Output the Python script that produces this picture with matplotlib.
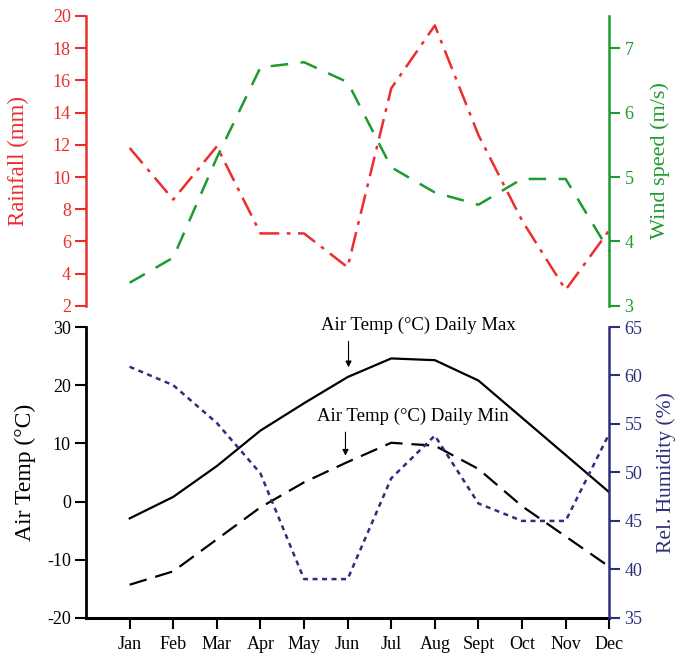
import numpy as np
import matplotlib
matplotlib.use("Agg")
import matplotlib.pyplot as plt

plt.rcParams['font.family'] = ['Liberation Serif', 'DejaVu Serif']
plt.rcParams['axes.unicode_minus'] = False

months = ["Jan", "Feb", "Mar", "Apr", "May", "Jun", "Jul", "Aug", "Sept", "Oct", "Nov", "Dec"]
rainfall = [11.8, 8.6, 11.9, 6.5, 6.5, 4.4, 15.5, 19.4, 12.6, 7.3, 3.0, 6.7]
wind = [3.36, 3.75, 5.3, 6.7, 6.78, 6.47, 5.15, 4.76, 4.57, 4.97, 4.97, 3.85]
t_max = [-2.9, 0.8, 6.1, 12.2, 16.9, 21.4, 24.6, 24.3, 20.8, 14.4, 8.0, 1.6]
t_min = [-14.3, -12.0, -6.5, -1.0, 3.3, 6.8, 10.1, 9.6, 5.6, -0.8, -6.0, -11.2]
humidity = [60.9, 59.0, 55.1, 49.9, 39.0, 39.0, 49.4, 53.8, 46.8, 45.0, 45.0, 54.0]

x = np.arange(1, 13)

red = "#ec2d2d"
green = "#1e9a2e"
navy = "#2e2e7c"

fig = plt.figure(figsize=(6.83, 6.58), dpi=100)

# top panel: rainfall + wind
ax1 = fig.add_axes([0.126, 0.535, 0.766, 0.441])
ax1.plot(x, rainfall, color=red, lw=1.8, linestyle=(0, (8, 3, 1.5, 3)))
ax1.set_xlim(0, 12)
ax1.set_ylim(2, 20)
ax1.set_yticks(range(2, 21, 2))
for s in ["top", "right", "bottom"]:
    ax1.spines[s].set_visible(False)
ax1.spines["left"].set_color(red)
ax1.spines["left"].set_linewidth(1.8)
ax1.tick_params(axis="y", colors=red, labelsize=13, length=8, width=1.5, pad=3)
ax1.set_xticks([])
ax1.set_ylabel("Rainfall (mm)", color=red, fontsize=16.5, labelpad=17)
ax1.patch.set_alpha(0)

ax2 = ax1.twinx()
ax2.plot(x, wind, color=green, lw=1.8, linestyle=(0, (7, 5)))
ax2.set_ylim(3, 7.5)
ax2.set_yticks([3, 4, 5, 6, 7])
for s in ["top", "left", "bottom"]:
    ax2.spines[s].set_visible(False)
ax2.spines["right"].set_color(green)
ax2.spines["right"].set_linewidth(1.8)
ax2.tick_params(axis="y", colors=green, labelsize=13, length=8, width=1.5, pad=3)
ax2.set_ylabel("Wind speed (m/s)", color=green, fontsize=16, labelpad=12)

# bottom panel: air temp + humidity
ax3 = fig.add_axes([0.126, 0.061, 0.766, 0.442])
ax3.plot(x, t_max, color="black", lw=1.6)
ax3.plot(x, t_min, color="black", lw=1.6, linestyle=(0, (8, 4)))
ax3.set_xlim(0, 12)
ax3.set_ylim(-20, 30)
ax3.set_yticks(range(-20, 31, 10))
ax3.set_xticks(x)
ax3.set_xticklabels(months)
ax3.spines["top"].set_visible(False)
ax3.spines["right"].set_visible(False)
ax3.spines["left"].set_linewidth(2)
ax3.spines["bottom"].set_linewidth(2.2)
ax3.tick_params(axis="both", labelsize=13, length=8, width=1.5, pad=3)
ax3.tick_params(axis="x", pad=5)
ax3.set_ylabel("Air Temp (°C)", fontsize=17, labelpad=8)
ax3.patch.set_alpha(0)

ax3.text(7.62, 30.3, "Air Temp (°C) Daily Max", ha="center", va="center", fontsize=13.5)
ax3.annotate("", xy=(6.02, 22.6), xytext=(6.02, 28.0),
             arrowprops=dict(arrowstyle="-|>", color="black", lw=0.8, mutation_scale=9))
ax3.text(7.49, 14.6, "Air Temp (°C) Daily Min", ha="center", va="center", fontsize=13.5)
ax3.annotate("", xy=(5.95, 7.4), xytext=(5.95, 12.4),
             arrowprops=dict(arrowstyle="-|>", color="black", lw=0.8, mutation_scale=9))

ax4 = ax3.twinx()
ax4.plot(x, humidity, color=navy, lw=1.8, linestyle=(0, (2, 1.8)))
ax4.set_ylim(35, 65)
ax4.set_yticks(range(35, 66, 5))
for s in ["top", "left", "bottom"]:
    ax4.spines[s].set_visible(False)
ax4.spines["right"].set_color(navy)
ax4.spines["right"].set_linewidth(1.8)
ax4.tick_params(axis="y", colors=navy, labelsize=13, length=8, width=1.5, pad=3)
ax4.set_ylabel("Rel. Humidity (%)", color=navy, fontsize=15.5, labelpad=10)

fig.savefig("out.png", dpi=100)
